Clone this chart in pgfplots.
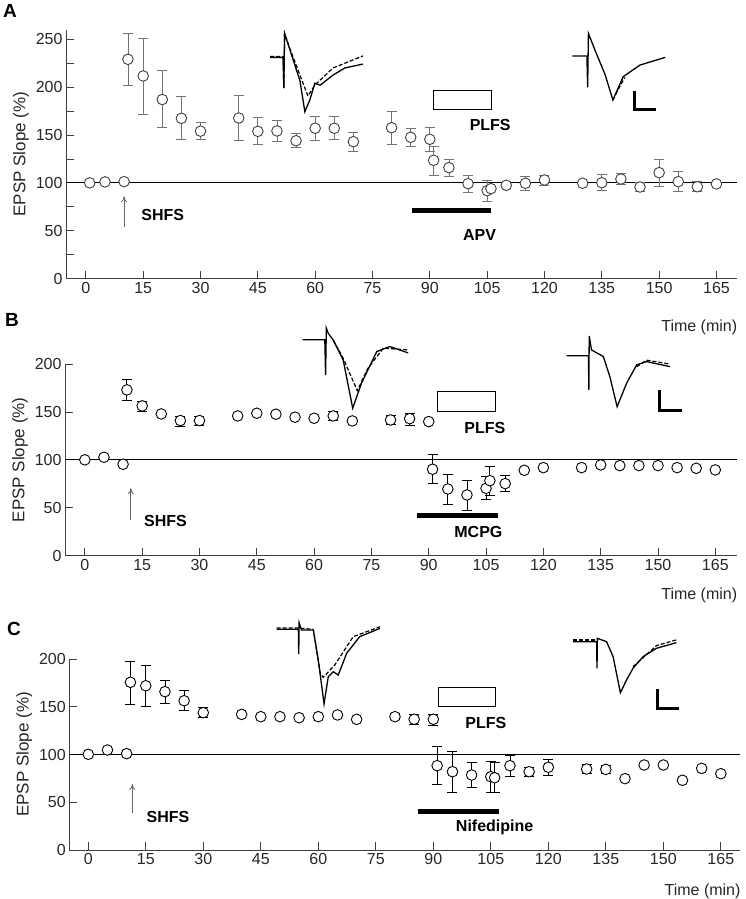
\documentclass[border=0pt]{standalone}
\usepackage{pgfplots}
\usepackage{pgfplotstable}
\pgfplotsset{compat=1.18}
\usetikzlibrary{arrows.meta}
\usepackage{fontspec}
\setmainfont{Liberation Sans}
\tikzset{lab/.style={font=\bfseries\fontsize{16}{18}\selectfont}}
\pgfplotsset{
  panel/.style={
    scale only axis, axis lines=left, axis line style={-, draw=black!75, line width=0.8pt},
    tick align=inside, major tick length=8pt, minor tick length=8pt,
    tick style={draw=black!75, line width=0.8pt},
    xtick={0,15,...,165}, ymin=0, clip=false,
    /pgf/number format/assume math mode=true,
    tick label style={font=\fontsize{16}{18}\selectfont, text=black!85},
    ylabel={EPSP Slope (\%)},
    ylabel style={font=\fontsize{17}{19}\selectfont, text=black!85},
    xlabel={Time (min)},
    xlabel style={at={(axis description cs:1,0)}, anchor=north east, xshift=4pt, font=\fontsize{16}{18}\selectfont, text=black!85},
  },
  ebars/.style={only marks, mark=none,
    error bars/y dir=both, error bars/y explicit,
    error bars/error bar style={line width=0.8pt, draw=#1},
    error bars/error mark options={rotate=90, line width=0.8pt, mark size=5pt, draw=#1}},
  circ/.style={only marks, mark=*, mark size=5.3pt,
    mark options={fill=white, draw=#1, line width=0.9pt}},
  trace/.style={black, line width=1.3pt},
  tdash/.style={black, line width=1.2pt, dash pattern=on 4pt off 2pt},
  sbar/.style={black, line width=3pt},
  drug/.style={black, line width=5pt},
  arr/.style={black!60, line width=0.8pt, -{To[length=6pt,width=6pt]}},
}
% x  y  error+  error-
\pgfplotstableread{
x y ep em
1 100 0 0
5 101 0 0
10 101.3 0 0
11 229 27 27.5
15 211.6 39.4 39.6
20 187 30 29.4
25 167.4 22.6 21.9
30 154 9 9
40 167.7 23.3 22.9
45 153.8 14.2 13.8
50 154.2 11.4 11.2
55 144 7.8 7.3
60 157 12 13
65 157 12 12
70 143 9.4 10.4
80 157.6 17.4 17.6
85 147.6 9.4 9.8
90 145.5 12.5 12.9
91 123.6 14.9 15.6
95 115.9 8.1 9.4
100 99.2 8.3 9.2
105 91.9 11.1 11.1
106 94 0 0
110 97.5 0 0
115 99.6 6.9 7.1
120 103 4.5 5.2
130 99.6 0 0
135 100.2 8.8 8.3
140 104 6 5.4
145 95.7 4.3 4.2
150 110.7 13.3 13.9
155 101.3 10.4 10.5
160 96 6 5
165 98.9 0 0
}\dataA
\pgfplotstableread{
x y ep em
0 100 0 0
5 102.7 0 0
10 95.4 0 0
11 173 11.4 11.2
15 156.3 4.5 6
20 147.9 0 0
25 141 4.8 5.6
30 141 4 5
40 145.8 0 0
45 148.6 0 0
50 147.6 0 0
55 144.5 0 0
60 143.4 0 0
65 145.8 4.5 4.8
70 140.6 0 0
80 141.6 5 5
85 143 5.6 6.6
90 139.9 0 0
91 90.2 15.6 14.6
95 69.6 15.7 15.9
100 63.4 14.9 15.7
105 70.3 12.2 11.4
106 78.3 15.3 14.9
110 75.2 8.3 8.4
115 89.1 0 0
120 91.9 0 0
130 91.9 0 0
135 94.7 0 0
140 94 0 0
145 94 0 0
150 94 0 0
155 91.9 0 0
160 91.2 0 0
165 89.5 0 0
}\dataB
\pgfplotstableread{
x y ep em
0 100.2 0 0
5 104.7 0 0
10 100.9 0 0
11 175.6 22.3 22.7
15 172 21.7 21.2
20 165.8 11.5 12.2
25 156.3 10.5 10.4
30 143.8 5.2 4.8
40 142 0 0
45 139.6 0 0
50 139.6 0 0
55 138.5 0 0
60 139.6 0 0
65 141.4 0 0
70 136.8 0 0
80 139.6 3 3
85 136.9 5 5
90 136.9 5 6
91 88.3 19.9 19.5
95 82 21 21.6
100 78.5 12.9 12.9
105 76.8 15.7 16.4
106 75.7 16.1 15.3
110 88.3 11.2 11.5
115 82 5 5
120 86.6 8.4 8.1
130 84.8 5 5
135 84.4 4 4
140 74.7 0 0
145 89 0 0
150 89 0 0
155 73 0 0
160 85.5 0 0
165 79.9 0 0
}\dataC
\begin{document}
\begin{tikzpicture}[x=1pt,y=1pt]
\useasboundingbox (0,0) rectangle (745,899);
\node[anchor=north west, inner sep=0, font=\bfseries\fontsize{19}{21}\selectfont] at (3,895) {A};
\node[anchor=north west, inner sep=0, font=\bfseries\fontsize{19}{21}\selectfont] at (5,586) {B};
\node[anchor=north west, inner sep=0, font=\bfseries\fontsize{19}{21}\selectfont] at (7,277) {C};

% ---------------- Panel A ----------------
\begin{axis}[panel, at={(66pt,620.3pt)}, anchor=south west, width=670.7pt, height=249.1pt,
  xmin=-5.2, xmax=170.3, ymax=260, ytick={0,50,...,250}, minor ytick={25,75,...,225},
  xlabel style={yshift=-38pt}]
\addplot[black, line width=0.8pt] coordinates {(-5.2,100) (170.3,100)};
\addplot[ebars=black!55] table[x=x, y=y, y error plus=ep, y error minus=em] {\dataA};
\addplot[circ=black!75] table[x=x, y=y] {\dataA};
% traces
\addplot[trace] coordinates {(48.2,231)(51.6,231)(51.8,199)(52,256)(53.4,238.7)(56,207)(57.3,174.3)(58.6,186.5)(59.9,204)(61.3,202)(64.7,212.6)(67.8,220)(72.5,224)};
\addplot[tdash] coordinates {(48.2,232)(51.6,232)(51.8,199)(52,256)(53.4,240)(56,212.6)(58.1,190.7)(59.9,202)(64.7,220)(72.5,232.5)};
\addplot[trace] coordinates {(127.3,232.5)(131.1,232.5)(131.3,199.8)(131.5,256)(133.2,238.7)(135.9,212.6)(137.9,186.5)(140.6,210.9)(145,223)(151.6,231)};
\addplot[tdash] coordinates {(137.9,186.5)(139.5,199)(141,210)};
\addplot[sbar] coordinates {(143.5,196.2)(143.5,176.1)(149.1,176.1)};
% annotations
\addplot[black, line width=0.8pt] coordinates {(91,177)(106,177)(106,197)(91,197)} -- cycle;
\addplot[drug] coordinates {(85.4,70.7)(106,70.7)};
\addplot[arr] coordinates {(10,54)(10,86)};
\node[lab, anchor=west] at (axis cs:13.6,66.5) {SHFS};
\node[lab] at (axis cs:105.8,160.4) {PLFS};
\node[lab] at (axis cs:103,45.6) {APV};
\end{axis}

% ---------------- Panel B ----------------
\begin{axis}[panel, at={(65pt,343.3pt)}, anchor=south west, width=671.7pt, height=191.7pt,
  xmin=-5.2, xmax=170.6, ymax=200, ytick={0,50,...,200},
  xlabel style={yshift=-29pt}]
\addplot[black, line width=0.8pt] coordinates {(-5.2,100) (170.6,100)};
\addplot[ebars=black] table[x=x, y=y, y error plus=ep, y error minus=em] {\dataB};
\addplot[circ=black] table[x=x, y=y] {\dataB};
\addplot[trace] coordinates {(57,225.2)(62.8,225.2)(63,188.6)(63.2,237.4)(63.7,232)(65,225)(67.6,204.3)(70.1,153.9)(72.4,180)(76.4,213)(79.8,218.2)(84.6,211.6)};
\addplot[tdash] coordinates {(65,225)(67.6,206)(71.3,172.2)(74,195)(78.1,216.5)(84.6,214.7)};
\addplot[trace] coordinates {(126.1,208.5)(131.8,208.5)(131.9,173)(132,229.3)(132.6,214.7)(135.7,207.7)(137.4,186.8)(139.3,155.5)(141.8,180)(144.4,199)(147,202.5)(153.1,197.3)};
\addplot[tdash] coordinates {(144.4,197)(147,204)(153.1,200)};
\addplot[sbar] coordinates {(150.5,173)(150.5,151)(156.2,151)};
\addplot[black, line width=0.8pt] coordinates {(92.3,151)(107.5,151)(107.5,170.9)(92.3,170.9)} -- cycle;
\addplot[drug] coordinates {(86.8,41.8)(108.2,41.8)};
\addplot[arr] coordinates {(12,37.3)(12,70.4)};
\node[lab, anchor=west] at (axis cs:14.6,36.2) {SHFS};
\node[lab] at (axis cs:104.7,133.6) {PLFS};
\node[lab] at (axis cs:103,25) {MCPG};
\end{axis}

% ---------------- Panel C ----------------
\begin{axis}[panel, at={(69.3pt,49pt)}, anchor=south west, width=670.7pt, height=191pt,
  xmin=-4.95, xmax=170, ymax=200, ytick={0,50,...,200},
  xlabel style={yshift=-30pt}]
\addplot[black, line width=0.8pt] coordinates {(-4.95,100) (170,100)};
\addplot[ebars=black] table[x=x, y=y, y error plus=ep, y error minus=em] {\dataC};
\addplot[circ=black] table[x=x, y=y] {\dataC};
\addplot[trace] coordinates {(49.1,231.1)(54.8,231.1)(54.9,205.2)(55,238)(55.6,230.4)(58.7,230.4)(60,199)(61.5,152.9)(62.6,181.5)(63.9,186.7)(65.2,183.2)(67.4,206)(70.8,223.4)(76.1,232.1)};
\addplot[tdash] coordinates {(49.1,232.5)(54.8,232.5)(58.7,231)(60.5,185)(61.3,180.8)(64.3,193.7)(69.1,223.4)(76.1,233.8)};
\addplot[trace] coordinates {(126.5,218.1)(132.6,218.1)(132.7,190.3)(132.8,221.7)(135.2,218.1)(136.9,202.4)(138.8,164.7)(140.4,178)(142.1,190.3)(144.7,202.4)(148.2,211.2)(153.4,217.1)};
\addplot[tdash] coordinates {(126.5,220)(132.6,220)};
\addplot[tdash] coordinates {(142.1,192)(148.2,214)(153.4,220)};
\addplot[sbar] coordinates {(148.6,168.3)(148.6,148.4)(154.1,148.4)};
\addplot[black, line width=0.8pt] coordinates {(91.3,150.8)(106.3,150.8)(106.3,170.4)(91.3,170.4)} -- cycle;
\addplot[drug] coordinates {(85.9,40.8)(107.2,40.8)};
\addplot[arr] coordinates {(11.5,38.4)(11.5,69.1)};
\node[lab, anchor=west] at (axis cs:14.3,34.9) {SHFS};
\node[lab] at (axis cs:103.7,133.3) {PLFS};
\node[lab] at (axis cs:106,23.4) {Nifedipine};
\end{axis}
\end{tikzpicture}
\end{document}
